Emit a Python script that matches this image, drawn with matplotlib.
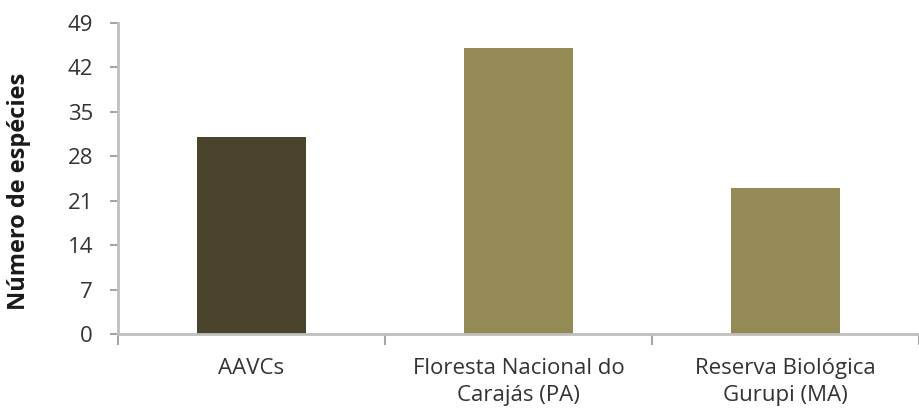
import matplotlib.pyplot as plt
import numpy as np

# Data
categories = ["AAVCs", "Floresta Nacional do\nCarajás (PA)", "Reserva Biológica\nGurupi (MA)"]
species = [31, 45, 23]
bar_colors = ["#4a442d", "#948a55", "#948a55"]
y_ticks = [0, 7, 14, 21, 28, 35, 42, 49]

plt.rcParams["font.family"] = ["Open Sans", "DejaVu Sans"]

fig = plt.figure(figsize=(9.19, 4.08), dpi=100)
ax = fig.add_axes([0.1284, 0.181, 0.8716, 0.7626])

x = np.arange(len(categories))
ax.bar(x, species, width=0.405, color=bar_colors, zorder=3)

ax.set_xlim(-0.5, 2.474)
ax.set_ylim(0, 49)
ax.set_yticks(y_ticks)
ax.set_yticklabels([str(v) for v in y_ticks], fontsize=16, color="#333333")

# category labels at centres, tick marks at boundaries
ax.set_xticks(x)
ax.set_xticklabels(categories, fontsize=16, color="#333333", linespacing=1.4)
ax.tick_params(axis="x", which="major", length=0, pad=17)
ax.set_xticks([-0.5, 0.5, 1.5, 2.5], minor=True)
ax.tick_params(axis="x", which="minor", length=8, width=1.5, color="#a6a6a6")
ax.tick_params(axis="y", length=6, width=1.5, color="#a6a6a6", pad=12)

for side in ["top", "right"]:
    ax.spines[side].set_visible(False)
for side in ["left", "bottom"]:
    ax.spines[side].set_color("#bfbfbf")
    ax.spines[side].set_linewidth(2)
ax.spines["bottom"].set_zorder(4)

ax.set_ylabel("Número de espécies", fontsize=17, fontweight="bold", color="#1a1a1a")
ax.yaxis.set_label_coords(-0.108, 0.458)

fig.savefig("out.png", dpi=100)
